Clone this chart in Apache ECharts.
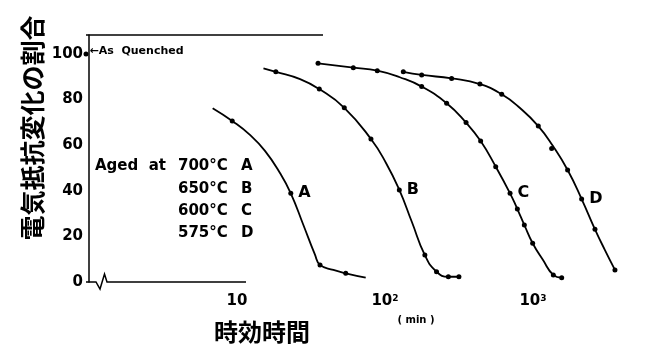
<!DOCTYPE html>
<html>
<head>
<meta charset="utf-8">
<script src="https://cdn.jsdelivr.net/npm/echarts@6/dist/echarts.min.js"></script>
<style>
  html, body { margin: 0; padding: 0; background: #fff; }
  #chart { width: 650px; height: 352px; }
</style>
</head>
<body>
<div id="chart"></div>
<script>
// aging time (min), resistance change ratio (%)
const curveA = [[6.85, 76.2], [9.29, 70.6], [12.24, 64.5], [15.46, 57.5], [19.52, 47.8], [23.1, 38.9], [28.1, 25.0], [33.6, 12.1], [36.4, 7.5], [44.8, 5.3], [54.3, 3.8], [74.1, 1.9]];
const dotsA = [[9.29, 70.6], [23.1, 38.9], [36.4, 7.5], [54.3, 3.8]];

const curveB = [[15.1, 93.7], [18.3, 92.2], [26.7, 89.0], [36.0, 84.6], [53.1, 76.4], [80.4, 62.7], [101.6, 52.2], [125, 40.4], [152, 26.3], [186, 11.8], [223, 4.5], [268, 2.3], [316, 2.3]];
const dotsB = [[18.3, 92.2], [36.0, 84.6], [53.1, 76.4], [80.4, 62.7], [125, 40.4], [186, 11.8], [223, 4.5], [268, 2.3], [316, 2.3]];

const curveC = [[35.3, 95.9], [61.1, 94.0], [88.7, 92.7], [126, 89.8], [177, 85.7], [261, 78.4], [353, 69.9], [443, 61.8], [560, 50.6], [700, 38.9], [784, 32.0], [874, 25.0], [995, 17.0], [1169, 9.6], [1372, 3.1], [1563, 1.9]];
const dotsC = [[35.3, 95.9], [61.1, 94.0], [88.7, 92.7], [177, 85.7], [261, 78.4], [353, 69.9], [443, 61.8], [560, 50.6], [700, 38.9], [784, 32.0], [874, 25.0], [995, 17.0], [1372, 3.1], [1563, 1.9]];

const curveD = [[133, 92.2], [177, 90.8], [282, 89.3], [438, 86.8], [615, 82.3], [817, 76.3], [1086, 68.4], [1365, 59.6], [1714, 49.1], [2132, 36.4], [2623, 23.1], [3063, 14.0], [3580, 5.3]];
const dotsD = [[133, 92.2], [177, 90.8], [282, 89.3], [438, 86.8], [615, 82.3], [1086, 68.4], [1337, 58.6], [1714, 49.1], [2132, 36.4], [2623, 23.1], [3580, 5.3]];

const asQuenched = 100;
const yTicks = [0, 20, 40, 60, 80, 100];
const xTickExp = [1, 2, 3];
const agedTemps = ['700°C', '650°C', '600°C', '575°C'];
const curveNames = ['A', 'B', 'C', 'D'];

const xMin = -0.02, xMax = 3.696;
const lg = p => [Math.log10(p[0]), p[1]];

const curves = [
    { name: 'A', line: curveA, dots: dotsA, labelAt: 1 },
    { name: 'B', line: curveB, dots: dotsB, labelAt: 4 },
    { name: 'C', line: curveC, dots: dotsC, labelAt: 8 },
    { name: 'D', line: curveD, dots: dotsD, labelAt: 8 }
];

const FONT = '"DejaVu Sans", sans-serif';
const series = [];
curves.forEach(c => {
    series.push({
        type: 'line',
        data: c.line.map(lg),
        smooth: 0.5,
        symbol: 'none',
        lineStyle: { color: '#000', width: 1.8 },
        z: 2
    });
    series.push({
        type: 'scatter',
        symbolSize: 5,
        itemStyle: { color: '#000', opacity: 1 },
        data: c.dots.map((p, i) => i === c.labelAt ? {
            value: lg(p),
            label: {
                show: true, formatter: c.name, position: 'right', distance: 5,
                color: '#000', fontFamily: FONT, fontWeight: 'bold', fontSize: 16
            }
        } : lg(p)),
        z: 3
    });
});

series.push({
    type: 'scatter',
    symbolSize: 5,
    itemStyle: { color: '#000', opacity: 1 },
    data: [[xMin, asQuenched]],
    label: {
        show: true, formatter: '\u2190As  Quenched', position: 'right', distance: 1,
        offset: [0, -3], color: '#000', fontFamily: FONT, fontWeight: 'bold', fontSize: 11
    },
    clip: false,
    z: 3
});

const chart = echarts.init(document.getElementById('chart'));

const legendText = [];
agedTemps.forEach((t, i) => {
    const y = [166, 189, 211, 233.5][i];
    legendText.push({ type: 'text', x: 178, y: y, style: { text: t, font: 'bold 15px ' + FONT, fill: '#000', verticalAlign: 'middle' } });
    legendText.push({ type: 'text', x: 241, y: y, style: { text: curveNames[i], font: 'bold 15px ' + FONT, fill: '#000', verticalAlign: 'middle' } });
});
legendText.push({ type: 'text', x: 95, y: 166, style: { text: 'Aged  at', font: 'bold 15px ' + FONT, fill: '#000', verticalAlign: 'middle' } });

chart.setOption({
    animation: false,
    grid: { left: 86, right: 14, top: 35, bottom: 70 },
    xAxis: {
        type: 'value',
        min: xMin,
        max: xMax,
        axisLine: { show: false },
        axisTick: { show: false },
        splitLine: { show: false },
        axisLabel: {
            customValues: xTickExp,
            margin: 12,
            formatter: v => v === 1 ? '{b|10}' : '{b|10}{s|' + v + '}',
            rich: {
                b: { fontFamily: FONT, fontWeight: 'bold', fontSize: 15, color: '#000' },
                s: { fontFamily: FONT, fontWeight: 'bold', fontSize: 9, color: '#000', verticalAlign: 'top', padding: [0, 0, 6, 0] }
            }
        }
    },
    yAxis: {
        type: 'value',
        min: 0,
        max: 108.33,
        axisLine: { show: true, lineStyle: { color: '#000', width: 1.5 } },
        axisTick: { show: false },
        splitLine: { show: false },
        axisLabel: {
            customValues: yTicks,
            margin: 3,
            color: '#000',
            fontFamily: FONT,
            fontWeight: 'bold',
            fontSize: 15
        }
    },
    graphic: [
        // top frame (partly faded in the scan)
        { type: 'line', shape: { x1: 86, y1: 35, x2: 323, y2: 35 }, style: { stroke: '#000', lineWidth: 1.5 } },
        // bottom axis with break mark
        { type: 'polyline', shape: { points: [[86, 282], [96, 282], [100, 289], [104.5, 274], [107, 282], [246, 282]] }, style: { stroke: '#000', lineWidth: 1.5, fill: null } },
        { type: 'text', x: 32, y: 128, rotation: Math.PI / 2, style: { text: '電気抵抗変化の割合', font: 'bold 25px "Noto Sans CJK JP"', fill: '#000', align: 'center', verticalAlign: 'middle' } },
        { type: 'text', x: 262, y: 332, style: { text: '時効時間', font: 'bold 24px "Noto Sans CJK JP"', fill: '#000', align: 'center', verticalAlign: 'middle' } },
        { type: 'text', x: 416, y: 320, style: { text: '( min )', font: 'bold 10px ' + FONT, fill: '#000', align: 'center', verticalAlign: 'middle' } },
        ...legendText
    ],
    series: series
});

window.addEventListener('resize', () => chart.resize());
</script>
</body>
</html>
